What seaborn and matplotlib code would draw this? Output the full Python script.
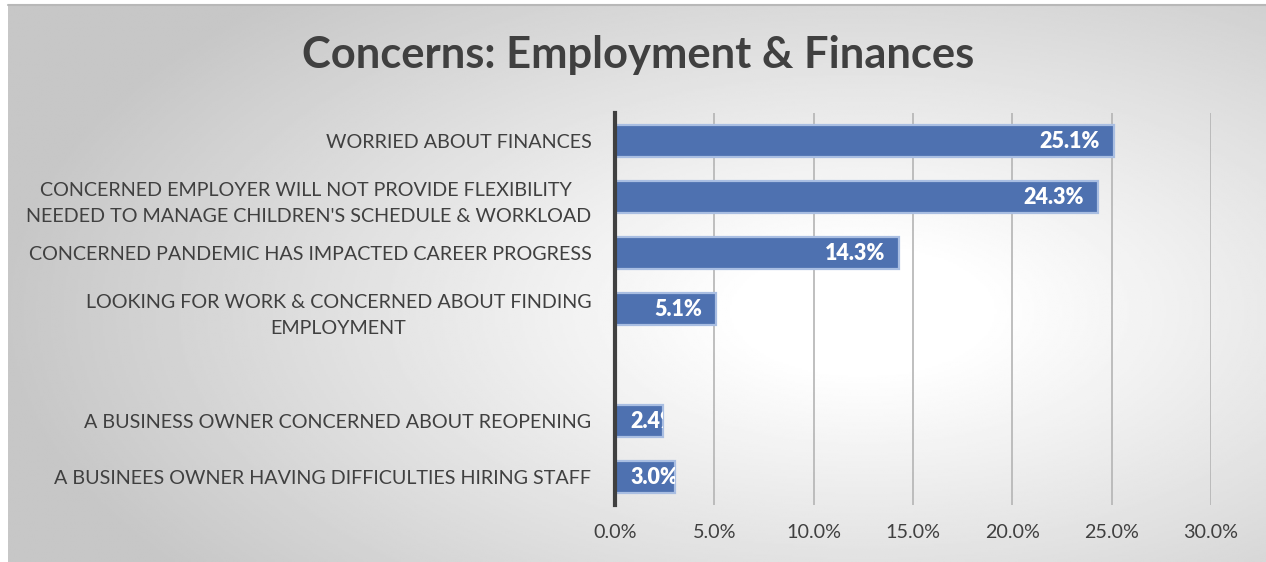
import numpy as np
import pandas as pd
import matplotlib
matplotlib.use("Agg")
import matplotlib.pyplot as plt
import seaborn as sns

categories = [
    "WORRIED ABOUT FINANCES",
    "CONCERNED EMPLOYER WILL NOT PROVIDE FLEXIBILITY \nNEEDED TO MANAGE CHILDREN'S SCHEDULE & WORKLOAD",
    "CONCERNED PANDEMIC HAS IMPACTED CAREER PROGRESS",
    "LOOKING FOR WORK & CONCERNED ABOUT FINDING\nEMPLOYMENT",
    " ",
    "A BUSINESS OWNER CONCERNED ABOUT REOPENING",
    "A BUSINEES OWNER HAVING DIFFICULTIES HIRING STAFF",
]
values = [25.1, 24.3, 14.3, 5.1, None, 2.4, 3.0]
value_labels = ["25.1%", "24.3%", "14.3%", "5.1%", "", "2.4%", "3.0%"]
x_ticks = [0, 5, 10, 15, 20, 25, 30]
x_tick_labels = ["0.0%", "5.0%", "10.0%", "15.0%", "20.0%", "25.0%", "30.0%"]
title = "Concerns: Employment & Finances"

sns.set_theme(style="white")
plt.rcParams["font.family"] = ["Lato", "DejaVu Sans"]

W, H = 1266, 562
fig = plt.figure(figsize=(W / 100, H / 100), dpi=100)
fig.patch.set_facecolor("white")

# background radial gradient panel
bg = fig.add_axes([8 / W, 0, 1 - 8 / W, (H - 5) / H])
yy, xx = np.mgrid[0:1:300j, 0:1:600j]
cx, cy = 0.68, 0.55
r = np.sqrt(((xx - cx) / 0.8) ** 2 + ((yy - cy) / 0.9) ** 2)
g = np.clip(1.0 - 0.30 * np.clip(r - 0.12, 0, None) ** 1.0, 0.78, 1.0)
bg.imshow(g, cmap="gray", vmin=0, vmax=1, aspect="auto", extent=[0, 1, 0, 1], origin="upper")
bg.set_axis_off()
fig.add_artist(plt.Line2D([8 / W, 1], [(H - 5) / H] * 2, color="#b8b8b8", lw=1.5))

ax = fig.add_axes([615 / W, 1 - 505 / H, (1211 - 615) / W, (505 - 113) / H])
ax.patch.set_alpha(0)

df = pd.DataFrame({"cat": categories, "val": values}).dropna()
sns.barplot(data=df, y="cat", x="val", order=categories, orient="h",
            color="#4e71b0", saturation=1, width=0.57, ax=ax,
            edgecolor="#a9bee2", linewidth=1.6)

ax.set_xlim(0, 30)
ax.set_ylim(len(categories) - 0.5, -0.5)
ax.set_xticks(x_ticks)
ax.set_xticklabels(x_tick_labels)
ax.xaxis.grid(True, color="#b4b4b4", lw=1.2)
ax.set_axisbelow(True)
for s in ["top", "right", "bottom"]:
    ax.spines[s].set_visible(False)
ax.spines["left"].set_color("#404040")
ax.spines["left"].set_linewidth(3)
ax.set_xlabel("")
ax.set_ylabel("")
ax.tick_params(axis="x", length=0, pad=14, labelsize=14.2, labelcolor="#404040")
ax.tick_params(axis="y", length=0, pad=17, labelsize=14.2, labelcolor="#404040")
for t in ax.get_yticklabels():
    t.set_multialignment("center")
    t.set_linespacing(1.7)

bars = [p for p in ax.patches]
bi = 0
for i, (v, lab) in enumerate(zip(values, value_labels)):
    if v is None:
        continue
    bar = bars[bi]
    bi += 1
    if v < 4:
        txt = ax.text(0.76, i, lab, ha="left", va="center", color="white",
                      fontsize=15.5, fontweight="heavy", clip_on=True)
    else:
        txt = ax.text(v - 0.7, i, lab, ha="right", va="center", color="white",
                      fontsize=15.5, fontweight="heavy", clip_on=True)
    txt.set_clip_path(bar)

fig.text(638 / W, 1 - 55 / H, title, ha="center", va="center",
         fontsize=31.3, fontweight="bold", color="#404040")

fig.savefig("out.png", dpi=100)
